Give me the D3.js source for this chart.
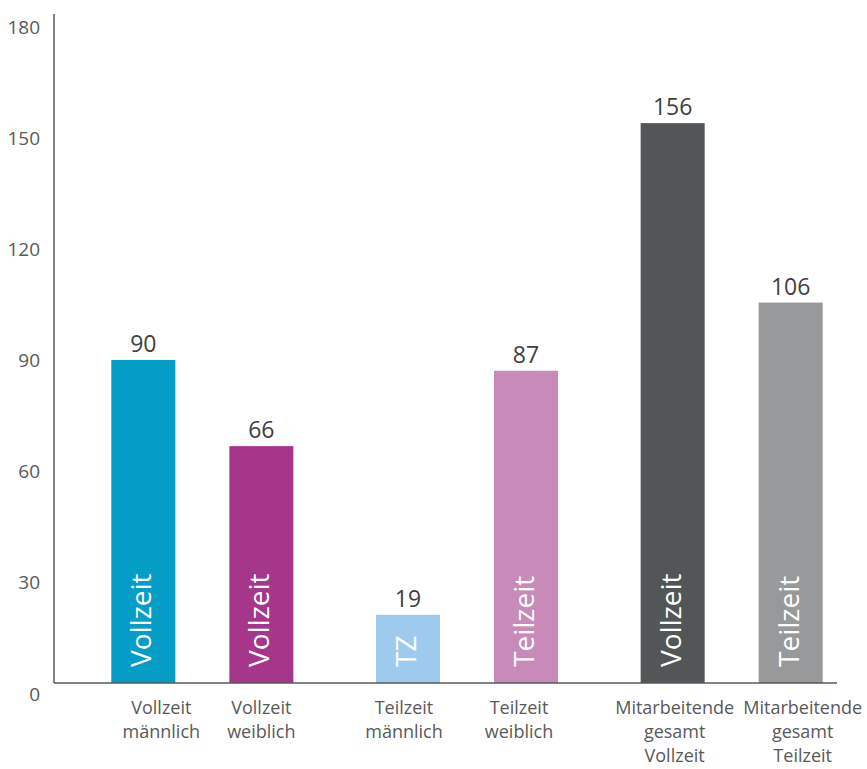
<!DOCTYPE html>
<html lang="de">
<head>
<meta charset="utf-8">
<title>Mitarbeitende nach Arbeitszeit</title>
<script src="https://cdn.jsdelivr.net/npm/d3@7"></script>
<style>
  html, body { margin: 0; padding: 0; background: #ffffff; }
  svg { display: block; font-family: "Open Sans", "Noto Sans", sans-serif; }
</style>
</head>
<body>
<svg id="chart" width="867" height="769"></svg>
<script>
// Bars, in drawing order
const categoryLines = [
  ["Vollzeit", "männlich"],
  ["Vollzeit", "weiblich"],
  ["Teilzeit", "männlich"],
  ["Teilzeit", "weiblich"],
  ["Mitarbeitende", "gesamt", "Vollzeit"],
  ["Mitarbeitende", "gesamt", "Teilzeit"]
];
const groupOf = ["Vollzeit", "Vollzeit", "Teilzeit", "Teilzeit", "Gesamt", "Gesamt"];
const groups = ["Vollzeit", "Teilzeit", "Gesamt"];
const values = [90, 66, 19, 87, 156, 106];
const barTags = ["Vollzeit", "Vollzeit", "TZ", "Teilzeit", "Vollzeit", "Teilzeit"];
const yTicks = [0, 30, 60, 90, 120, 150, 180];

// Palette
const barColors = ["#039dc6", "#a6368a", "#9ecbed", "#c78ab9", "#525657", "#98999b"];

const svg = d3.select("#chart");
const baseY = 683;
const axisX = 54;
const axisRight = 837;

// Horizontal layout: three pairs of bars
const xGroup = d3.scaleBand().domain(groups).range([70, 864]).padding(0);
const xInner = d3.scaleBand().domain([0, 1]).range([0, xGroup.bandwidth()])
  .paddingInner(0.4576).paddingOuter(0.35);

const bars = values.map((v, i) => {
  const within = groupOf.slice(0, i).filter(g => g === groupOf[i]).length;
  return { i, value: v, group: groupOf[i], slot: within };
});
const barX = d => xGroup(d.group) + xInner(d.slot);
const barW = xInner.bandwidth();
const barCx = d => barX(d) + barW / 2;

// Vertical scales: bars and the tick label track
const y = d3.scaleLinear().domain([0, 180]).range([baseY, 37]);
const yLabels = d3.scaleLinear().domain([0, 180]).range([694, 27]);

// Tick labels
const yAxis = d3.axisLeft(yLabels).tickValues(yTicks).tickSize(0).tickPadding(0);
const ag = svg.append("g").attr("transform", `translate(40,0)`).call(yAxis);
ag.select(".domain").remove();
ag.selectAll("text")
  .attr("fill", "#595959")
  .attr("font-size", 19)
  .attr("font-family", "'Open Sans', 'Noto Sans', sans-serif");

// Bars
svg.append("g").selectAll("rect").data(bars).join("rect")
  .attr("x", barX)
  .attr("y", d => y(d.value))
  .attr("width", barW)
  .attr("height", d => baseY - y(d.value))
  .attr("fill", d => barColors[d.i]);

// Axis lines
svg.append("line")
  .attr("x1", axisX).attr("x2", axisX)
  .attr("y1", 14).attr("y2", baseY)
  .attr("stroke", "#595959").attr("stroke-width", 1.5);
svg.append("line")
  .attr("x1", axisX).attr("x2", axisRight)
  .attr("y1", baseY).attr("y2", baseY)
  .attr("stroke", "#595959").attr("stroke-width", 1.5);

// Value labels above bars
svg.append("g").selectAll("text").data(bars).join("text")
  .attr("x", barCx)
  .attr("y", d => y(d.value) - 8)
  .attr("text-anchor", "middle")
  .attr("font-size", 23)
  .attr("fill", "#404040")
  .text(d => d.value);

// Rotated tags inside bars
svg.append("g").selectAll("text").data(bars).join("text")
  .attr("transform", d => `translate(${barCx(d) + 8},667) rotate(-90)`)
  .attr("text-anchor", "start")
  .attr("font-size", 28)
  .attr("fill", "#ffffff")
  .text(d => barTags[d.i]);

// Category labels under the axis
const labelNudge = [18, 0, -4, -7, 2, 12];
const cat = svg.append("g").selectAll("text").data(bars).join("text")
  .attr("x", d => barCx(d) + labelNudge[d.i])
  .attr("y", 714)
  .attr("text-anchor", "middle")
  .attr("font-size", 18)
  .attr("fill", "#595959");
cat.selectAll("tspan").data(d => categoryLines[d.i].map(t => ({ t, x: barCx(d) + labelNudge[d.i] })))
  .join("tspan")
  .attr("x", t => t.x)
  .attr("dy", (t, k) => k === 0 ? 0 : 24)
  .text(t => t.t);
</script>
</body>
</html>
